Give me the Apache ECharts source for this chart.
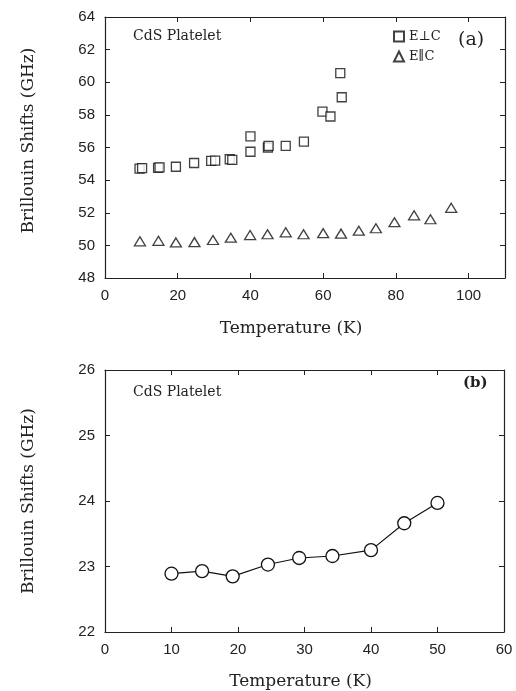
<!DOCTYPE html>
<html>
<head>
<meta charset="utf-8">
<script src="https://cdn.jsdelivr.net/npm/echarts@6/dist/echarts.min.js"></script>
<style>
html,body{margin:0;padding:0;background:#fff;}
#chart{width:516px;height:691px;}
</style>
</head>
<body>
<div id="chart"></div>
<script>
// Panel (a): E perpendicular to c (squares) [Temperature K, shift GHz]
var perpT = [9.5, 10.2, 14.6, 15.0, 19.5, 24.5, 29.2, 30.3, 34.3, 35.0, 40.0, 40.0, 44.8, 45.0, 49.7, 54.7, 59.8, 62.0, 64.7, 65.1];
var perpV = [54.71, 54.74, 54.75, 54.78, 54.82, 55.05, 55.18, 55.2, 55.28, 55.24, 56.68, 55.74, 56.0, 56.1, 56.1, 56.36, 58.2, 57.9, 60.56, 59.08];
// Panel (a): E parallel to c (triangles)
var paraT = [9.6, 14.7, 19.5, 24.6, 29.7, 34.6, 39.9, 44.7, 49.7, 54.6, 60.0, 64.9, 69.8, 74.5, 79.6, 85.0, 89.5, 95.2];
var paraV = [50.25, 50.28, 50.18, 50.2, 50.33, 50.47, 50.63, 50.68, 50.8, 50.68, 50.75, 50.72, 50.9, 51.05, 51.42, 51.84, 51.6, 52.3];
// Panel (b)
var bT = [10.0, 14.6, 19.2, 24.5, 29.2, 34.2, 40.0, 45.0, 50.0];
var bV = [22.89, 22.93, 22.85, 23.03, 23.13, 23.16, 23.25, 23.66, 23.97];

function pairs(xs, ys){ return xs.map(function(x,i){return [x, ys[i]];}); }

var chart = echarts.init(document.getElementById('chart'));
function aLine(){ return {show:true, onZero:false, lineStyle:{color:'#222', width:1.2}}; }
function tickIn(){ return {show:true, inside:true, length:5, lineStyle:{color:'#222', width:1}}; }
var lbl = {color:'#222', fontFamily:'Liberation Sans', fontSize:15};
var nameStyleY = {fontFamily:'DejaVu Serif', fontSize:17, color:'#222'};
var nameStyleX = {fontFamily:'DejaVu Serif', fontSize:17, color:'#222'};
var sym = {color:'#fff', borderColor:'#111', borderWidth:1.3};

var option = {
  animation:false,
  backgroundColor:'#fff',
  grid:[
    {left:105, top:17, width:400, height:261},
    {left:105, top:370, width:399, height:262}
  ],
  legend:{
    orient:'vertical', left:388, top:25, itemWidth:10, itemHeight:10, itemGap:7,
    textStyle:{fontFamily:'DejaVu Serif', fontSize:13, color:'#222'},
    data:['E\u22A5C','E\u2225C']
  },
  xAxis:[
    {gridIndex:0, type:'value', min:0, max:110, interval:20, position:'bottom',
     axisLine:aLine(), axisTick:tickIn(), splitLine:{show:false},
     axisLabel:Object.assign({margin:10, showMaxLabel:false}, lbl),
     name:'Temperature (K)', nameLocation:'middle', nameGap:42,
     nameTextStyle:Object.assign({padding:[0,28,0,0]}, nameStyleX)},
    {gridIndex:0, type:'value', min:0, max:110, interval:20, position:'top',
     axisLine:aLine(), axisTick:tickIn(), axisLabel:{show:false}, splitLine:{show:false}},
    {gridIndex:1, type:'value', min:0, max:60, interval:10, position:'bottom',
     axisLine:aLine(), axisTick:tickIn(), splitLine:{show:false},
     axisLabel:Object.assign({margin:10}, lbl),
     name:'Temperature (K)', nameLocation:'middle', nameGap:41,
     nameTextStyle:Object.assign({padding:[0,8,0,0]}, nameStyleX)},
    {gridIndex:1, type:'value', min:0, max:60, interval:10, position:'top',
     axisLine:aLine(), axisTick:tickIn(), axisLabel:{show:false}, splitLine:{show:false}}
  ],
  yAxis:[
    {gridIndex:0, type:'value', min:48, max:64, interval:2, position:'left',
     axisLine:aLine(), axisTick:tickIn(), splitLine:{show:false},
     axisLabel:Object.assign({margin:10}, lbl),
     name:'Brillouin Shifts (GHz)', nameLocation:'middle', nameGap:68,
     nameTextStyle:Object.assign({padding:[0,0,0,14]}, nameStyleY)},
    {gridIndex:0, type:'value', min:48, max:64, interval:2, position:'right',
     axisLine:aLine(), axisTick:tickIn(), axisLabel:{show:false}, splitLine:{show:false}},
    {gridIndex:1, type:'value', min:22, max:26, interval:1, position:'left',
     axisLine:aLine(), axisTick:tickIn(), splitLine:{show:false},
     axisLabel:Object.assign({margin:10}, lbl),
     name:'Brillouin Shifts (GHz)', nameLocation:'middle', nameGap:68,
     nameTextStyle:nameStyleY},
    {gridIndex:1, type:'value', min:22, max:26, interval:1, position:'right',
     axisLine:aLine(), axisTick:tickIn(), axisLabel:{show:false}, splitLine:{show:false}}
  ],
  graphic:[
    {type:'text', left:133, top:29, style:{text:'CdS Platelet', font:'14px "DejaVu Serif"', fill:'#222'}},
    {type:'text', left:458, top:31, style:{text:'(a)', font:'19px "DejaVu Serif"', fill:'#222'}},
    {type:'text', left:133, top:385, style:{text:'CdS Platelet', font:'14px "DejaVu Serif"', fill:'#222'}},
    {type:'text', left:463, top:376, style:{text:'(b)', font:'bold 15px "DejaVu Serif"', fill:'#222'}}
  ],
  series:[
    {name:'E\u22A5C', type:'scatter', xAxisIndex:0, yAxisIndex:0, symbol:'rect', symbolSize:9,
     itemStyle:sym, data:pairs(perpT, perpV)},
    {name:'E\u2225C', type:'scatter', xAxisIndex:0, yAxisIndex:0, symbol:'triangle', symbolSize:[11,9],
     itemStyle:sym, data:pairs(paraT, paraV)},
    {name:'b', type:'line', xAxisIndex:2, yAxisIndex:2, symbol:'circle', symbolSize:13,
     itemStyle:sym, lineStyle:{color:'#111', width:1.2}, data:pairs(bT, bV), z:3}
  ]
};
chart.setOption(option);
</script>
</body>
</html>
